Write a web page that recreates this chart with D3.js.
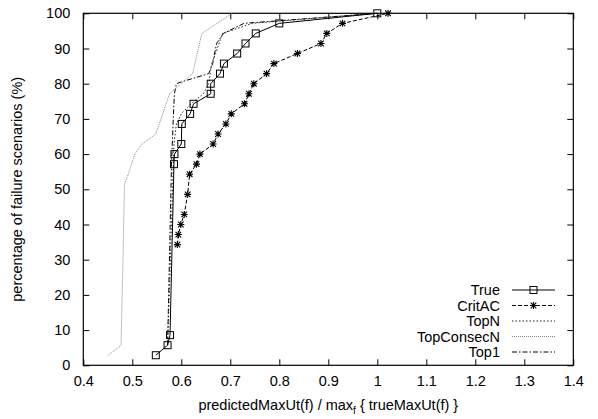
<!DOCTYPE html>
<html>
<head>
<meta charset="utf-8">
<script src="https://cdn.jsdelivr.net/npm/d3@7.9.0/dist/d3.min.js"></script>
<style>
  body { margin: 0; background: #fff; }
  svg { display: block; font-family: "Liberation Sans", Arial, sans-serif; }
  .tick text { font-size: 14.5px; fill: #000; }
</style>
</head>
<body>
<svg width="598" height="419"></svg>
<script>
// series values (x = ratio, y = % of scenarios)
const trueX = [0.548, 0.572, 0.577, 0.585, 0.586, 0.600, 0.601, 0.618, 0.625, 0.660, 0.660, 0.679, 0.687, 0.714, 0.731, 0.752, 0.800, 1.000];
const trueY = [2.86, 5.71, 8.57, 57.14, 60.0, 62.86, 68.57, 71.43, 74.29, 77.14, 80.0, 82.86, 85.71, 88.57, 91.43, 94.29, 97.14, 100];

const critX = [0.592, 0.594, 0.599, 0.606, 0.613, 0.617, 0.631, 0.638, 0.665, 0.675, 0.691, 0.702, 0.729, 0.738, 0.748, 0.774, 0.789, 0.837, 0.885, 0.897, 0.929, 1.022];
const critY = [34.29, 37.14, 40.0, 42.86, 48.57, 54.29, 57.14, 60.0, 62.86, 65.71, 68.57, 71.43, 74.29, 77.14, 80.0, 82.86, 85.71, 88.57, 91.43, 94.29, 97.14, 100];

const topNX = [0.572, 0.580, 0.585, 0.590, 0.600, 0.620, 0.645, 0.656, 0.662, 0.670, 0.684, 0.710, 0.745, 1.000];
const topNY = [5.71, 40.0, 62.86, 68.57, 71.43, 74.29, 77.14, 80.0, 85.71, 88.57, 94.29, 95.5, 97.14, 100];

const consecX = [0.451, 0.477, 0.481, 0.484, 0.492, 0.505, 0.520, 0.548, 0.562, 0.576, 0.600, 0.623, 0.642, 0.704];
const consecY = [2.86, 5.71, 30.0, 51.43, 54.29, 60.0, 62.86, 65.71, 71.43, 77.14, 80.0, 82.86, 94.29, 100];

const top1X = [0.572, 0.580, 0.584, 0.586, 0.590, 0.600, 0.656, 0.664, 0.672, 0.686, 0.728, 1.000];
const top1Y = [5.71, 57.0, 71.43, 77.14, 80.0, 80.5, 82.86, 85.71, 91.43, 94.29, 97.14, 100];

const xTicks = [0.4, 0.5, 0.6, 0.7, 0.8, 0.9, 1, 1.1, 1.2, 1.3, 1.4];
const yTicks = [0, 10, 20, 30, 40, 50, 60, 70, 80, 90, 100];

const series = [
  { name: 'True', xs: trueX, ys: trueY, color: '#000', dash: null, marker: 'square' },
  { name: 'CritAC', xs: critX, ys: critY, color: '#000', dash: '4,2', marker: 'star' },
  { name: 'TopN', xs: topNX, ys: topNY, color: '#222', dash: '1.5,2', marker: null },
  { name: 'TopConsecN', xs: consecX, ys: consecY, color: '#888', dash: '1,1', marker: null },
  { name: 'Top1', xs: top1X, ys: top1Y, color: '#000', dash: '5,2,1.5,2', marker: null },
];

const svg = d3.select('svg');
const margin = { top: 13.3, right: 24.7, bottom: 53.7, left: 83.3 };
const W = 598 - margin.left - margin.right;
const H = 419 - margin.top - margin.bottom;

const g = svg.append('g').attr('transform', `translate(${margin.left},${margin.top})`);

const x = d3.scaleLinear().domain([0.4, 1.4]).range([0, W]);
const y = d3.scaleLinear().domain([0, 100]).range([H, 0]);

// axes: gnuplot style, ticks inward and mirrored
const tickLen = 6;
g.append('g').attr('class', 'xaxis').attr('transform', `translate(0,${H})`)
  .call(d3.axisBottom(x).tickValues(xTicks).tickSize(-tickLen).tickPadding(10).tickFormat(d3.format('')));
g.append('g').attr('transform', 'translate(0,0)')
  .call(d3.axisTop(x).tickValues(xTicks).tickSize(-tickLen).tickFormat(''));
g.append('g')
  .call(d3.axisLeft(y).tickValues(yTicks).tickSize(-tickLen).tickPadding(13));
g.append('g').attr('transform', `translate(${W},0)`)
  .call(d3.axisRight(y).tickValues(yTicks).tickSize(-tickLen).tickFormat(''));
g.selectAll('.domain').remove();
g.selectAll('.tick line').attr('stroke', '#000');
g.selectAll('.tick text').attr('fill', '#000');

g.append('rect').attr('width', W).attr('height', H)
  .attr('fill', 'none').attr('stroke', '#000').attr('stroke-width', 1.2);

const line = d3.line().x(d => x(d[0])).y(d => y(d[1]));

function drawMarker(sel, type, cx, cy) {
  if (type === 'square') {
    sel.append('rect').attr('x', cx - 3.5).attr('y', cy - 3.5).attr('width', 7).attr('height', 7)
      .attr('fill', 'none').attr('stroke', '#000').attr('stroke-width', 1);
  } else if (type === 'star') {
    const r = 3.5;
    sel.append('path')
      .attr('d', `M${cx - r},${cy}H${cx + r}M${cx},${cy - r}V${cy + r}M${cx - r * 0.8},${cy - r * 0.8}L${cx + r * 0.8},${cy + r * 0.8}M${cx - r * 0.8},${cy + r * 0.8}L${cx + r * 0.8},${cy - r * 0.8}`)
      .attr('stroke', '#000').attr('stroke-width', 1.1).attr('fill', 'none');
  }
}

// draw in reverse so True ends on top
series.slice().reverse().forEach(s => {
  const pts = s.xs.map((v, i) => [v, s.ys[i]]);
  g.append('path').datum(pts)
    .attr('d', line)
    .attr('fill', 'none')
    .attr('stroke', s.color)
    .attr('stroke-width', 1)
    .attr('stroke-dasharray', s.dash);
  if (s.marker) {
    const mg = g.append('g');
    pts.forEach(p => drawMarker(mg, s.marker, x(p[0]), y(p[1])));
  }
});

// legend
const legX = 500, legY0 = 290, legStep = 15.5;
series.forEach((s, i) => {
  const ly = legY0 + i * legStep;
  svg.append('text').attr('x', legX).attr('y', ly).attr('dy', '0.35em')
    .attr('text-anchor', 'end').attr('font-size', 14.5).text(s.name);
  svg.append('line').attr('x1', 512).attr('x2', 555).attr('y1', ly).attr('y2', ly)
    .attr('stroke', s.color).attr('stroke-width', 1).attr('stroke-dasharray', s.dash);
  if (s.marker) drawMarker(svg, s.marker, 533.5, ly);
});

// axis titles
const xt = svg.append('text').attr('x', margin.left + W / 2).attr('y', 410)
  .attr('text-anchor', 'middle').attr('font-size', 14.5);
xt.append('tspan').text('predictedMaxUt(f) / max');
xt.append('tspan').attr('font-size', 10).attr('dy', 4).text('f');
xt.append('tspan').attr('dy', -4).text(' { trueMaxUt(f) }');

svg.append('text')
  .attr('transform', `translate(17,${margin.top + H / 2}) rotate(-90)`)
  .attr('text-anchor', 'middle').attr('dy', '0.35em').attr('font-size', 14.5)
  .text('percentage of failure scenarios (%)');
</script>
</body>
</html>
